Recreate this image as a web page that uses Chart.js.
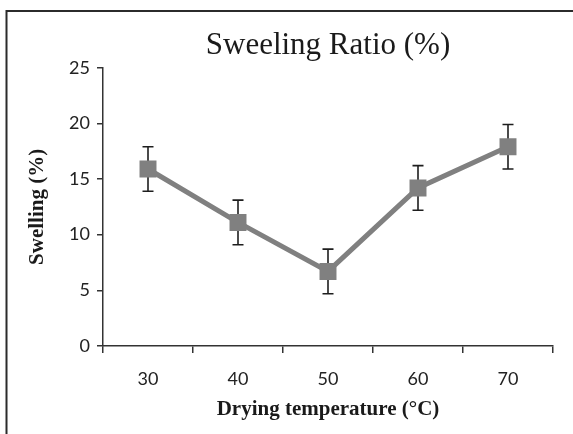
<!DOCTYPE html>
<html>
<head>
<meta charset="utf-8">
<script src="https://cdn.jsdelivr.net/npm/chart.js@4"></script>
<style>
  html, body { margin: 0; padding: 0; background: #fff; }
  #wrap { width: 573px; height: 434px; }
</style>
</head>
<body>
<div id="wrap"><canvas id="c" width="573" height="434"></canvas></div>
<script>
const categories = ['30', '40', '50', '60', '70'];
const swelling = [15.9, 11.1, 6.7, 14.2, 17.9];
const errors = [2, 2, 2, 2, 2];
const yTicks = [0, 5, 10, 15, 20, 25];

const framePlugin = {
  id: 'frame',
  beforeDraw(chart) {
    const ctx = chart.ctx;
    ctx.save();
    ctx.fillStyle = '#fff';
    ctx.fillRect(0, 0, chart.width, chart.height);
    ctx.strokeStyle = '#2b2b2b';
    ctx.lineWidth = 2;
    ctx.beginPath();
    ctx.moveTo(6.5, chart.height + 2);
    ctx.lineTo(6.5, 11);
    ctx.lineTo(chart.width + 2, 11);
    ctx.stroke();
    ctx.restore();
  }
};

const errorBarPlugin = {
  id: 'errorBars',
  beforeDatasetsDraw(chart) {
    const ctx = chart.ctx;
    const meta = chart.getDatasetMeta(0);
    const ys = chart.scales.y;
    ctx.save();
    ctx.strokeStyle = '#1e1e1e';
    ctx.lineWidth = 1.6;
    meta.data.forEach((pt, i) => {
      const x = pt.x;
      const top = ys.getPixelForValue(swelling[i] + errors[i]);
      const bot = ys.getPixelForValue(swelling[i] - errors[i]);
      ctx.beginPath();
      ctx.moveTo(x, top); ctx.lineTo(x, bot);
      ctx.moveTo(x - 5.5, top); ctx.lineTo(x + 5.5, top);
      ctx.moveTo(x - 5.5, bot); ctx.lineTo(x + 5.5, bot);
      ctx.stroke();
    });
    ctx.restore();
  }
};

new Chart(document.getElementById('c'), {
  type: 'line',
  data: {
    labels: categories,
    datasets: [{
      data: swelling,
      borderColor: '#808080',
      borderWidth: 5,
      backgroundColor: '#808080',
      pointStyle: 'rect',
      pointRadius: 12,
      pointHoverRadius: 12,
      pointBorderWidth: 0,
      pointBackgroundColor: '#808080',
      tension: 0
    }]
  },
  options: {
    responsive: false,
    animation: false,
    devicePixelRatio: 1,
    layout: { padding: { left: 0, right: 20, top: 0, bottom: 0 } },
    plugins: {
      legend: { display: false },
      tooltip: { enabled: false },
      title: {
        display: true,
        text: 'Sweeling Ratio (%)',
        fullSize: false,
        color: '#1a1a1a',
        font: { family: '"Liberation Serif", "Times New Roman", serif', size: 31, weight: 'normal', lineHeight: 1.2 },
        padding: { top: 27, bottom: 3.5 }
      }
    },
    scales: {
      x: {
        type: 'category',
        offset: true,
        afterFit(scale) { scale.height = 88; },
        grid: { display: true, offset: true, drawOnChartArea: false, drawTicks: true, tickLength: 7, color: '#333', lineWidth: 1.5 },
        border: { display: true, color: '#333', width: 1.5 },
        ticks: { color: '#222', padding: 15, font: { family: 'Lato, "Open Sans", sans-serif', size: 18 } },
        title: {
          display: true,
          text: 'Drying temperature (°C)',
          color: '#1a1a1a',
          font: { family: '"Liberation Serif", "Times New Roman", serif', size: 21, weight: 'bold', lineHeight: 1.2 },
          padding: { top: 0, bottom: 12 }
        }
      },
      y: {
        type: 'linear',
        min: 0,
        max: 25,
        afterFit(scale) { scale.width = 103; },
        afterBuildTicks(scale) { scale.ticks = yTicks.map(v => ({ value: v })); },
        grid: { display: true, drawOnChartArea: false, drawTicks: true, tickLength: 6, color: '#333', lineWidth: 1.5 },
        border: { display: true, color: '#333', width: 1.5 },
        ticks: { color: '#222', padding: 7, font: { family: 'Lato, "Open Sans", sans-serif', size: 18 } },
        title: {
          display: true,
          text: 'Swelling (%)',
          color: '#1a1a1a',
          font: { family: '"Liberation Serif", "Times New Roman", serif', size: 21, weight: 'bold', lineHeight: 1.2 },
          padding: { top: 25, bottom: 0 }
        }
      }
    }
  },
  plugins: [framePlugin, errorBarPlugin]
});
</script>
</body>
</html>
